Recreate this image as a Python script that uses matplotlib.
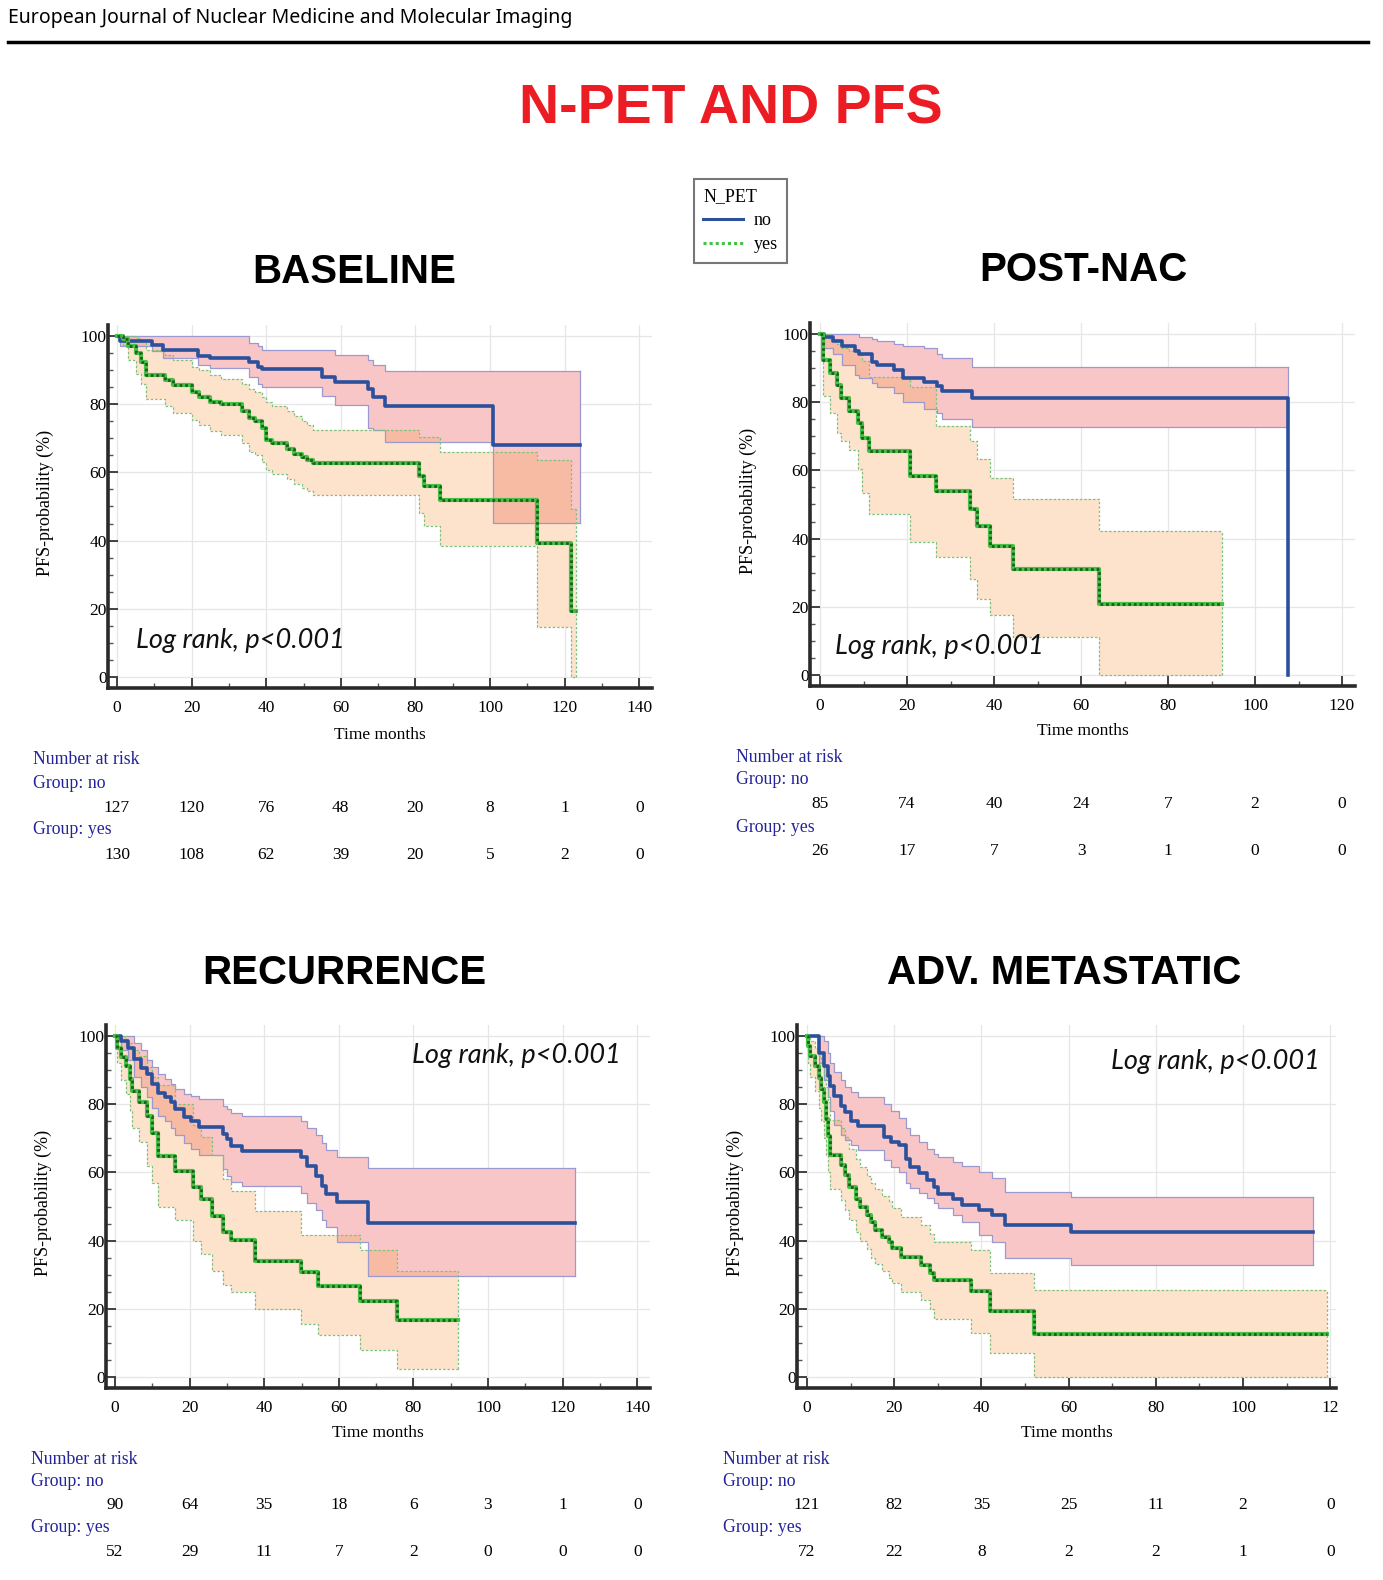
import matplotlib
matplotlib.use("Agg")
import matplotlib.pyplot as plt
import matplotlib.transforms as mtransforms
from matplotlib.lines import Line2D
from matplotlib.ticker import MultipleLocator
import numpy as np

# ---------------- data ----------------
# BASELINE
base_no_t = [0, 0.7, 9.5, 12.4, 21.6, 25, 35.4, 37.7, 39, 55, 58.4, 67.4, 68.7, 71.8, 100.7, 124]
base_no_s = [100, 98.5, 97.5, 95.8, 94.2, 93.5, 92.3, 91, 90.3, 88, 86.4, 84.5, 82, 79.4, 67.9, 67.9]
base_no_hi = [100, 100, 100, 100, 100, 100, 98, 97, 96, 96, 94.5, 93, 91.5, 89.6, 89.6, 89.6]
base_no_lo = [100, 97, 95.5, 93.5, 91.5, 90.5, 88, 86, 85, 82.5, 79.7, 73, 72.5, 68.8, 45.3, 45.3]
base_yes_t = [0, 1.5, 3, 5, 6.5, 7.8, 13, 15, 20, 22, 25, 28, 33.5, 35.5, 37, 39, 40, 41.5, 45.5,
              47.5, 49.5, 51, 52.5, 81, 82.3, 86.5, 112.5, 121.8, 123]
base_yes_s = [100, 99, 97, 95, 92.5, 88.5, 87, 85.5, 83.5, 82, 80.5, 80, 78, 76, 75, 73, 69.5, 68.5, 67,
              65.5, 64.5, 63.5, 62.9, 59, 56, 51.9, 39.3, 19.4, 19.4]
base_yes_hi = [100, 100, 100, 99.5, 98.5, 96, 94.5, 93, 91, 90, 88.5, 87.5, 86, 84.5, 83.5, 82, 80.5, 79.5, 78,
               76.5, 75, 74, 72.4, 70.5, 70.5, 65.9, 63.7, 49.2, 49.2]
base_yes_lo = [100, 97, 93, 89, 86, 81.5, 79.5, 77.5, 75.5, 74, 72, 71, 68.5, 66, 65, 63, 60.8, 59.5, 58,
               56.5, 55.5, 54.5, 53.5, 48, 44.3, 38.5, 14.8, 0, 0]

# POST-NAC
post_no_t = [0, 1, 3, 5, 8, 9, 12, 13, 17, 19, 24, 27, 28, 35, 107.7]
post_no_s = [100, 99, 98, 96.5, 95, 94.2, 91.9, 91, 89.3, 87, 86, 84.8, 83.2, 81.2, 0]
post_no_hi = [100, 100, 100, 100, 100, 99, 98.5, 98, 97, 96.5, 96, 94, 93, 90.3, 90.3]
post_no_lo = [100, 96, 94, 91, 88, 87, 85.5, 84.5, 82.7, 80, 78, 76.8, 75, 72.7, 72.7]
post_yes_t = [0, 0.8, 2.3, 3.8, 4.8, 6.7, 8.7, 9.7, 11.2, 20.6, 26.6, 34.5, 36, 39, 44.4, 64.2, 92.4]
post_yes_s = [100, 92.4, 88.5, 85.1, 81.2, 77.3, 73.9, 69.6, 65.7, 58.4, 54, 48.6, 43.8, 37.9, 31.1, 20.9, 20.9]
post_yes_hi = [100, 100, 98, 97, 96, 95, 94, 92, 87.5, 84.6, 73, 68.6, 63.2, 57.9, 51.6, 42.3, 42.3]
post_yes_lo = [100, 81.7, 76.8, 71, 68.5, 66, 60.3, 53.5, 47.2, 38.9, 34.5, 28.2, 22.4, 17.5, 11.2, 0, 0]

# RECURRENCE
rec_no_t = [0, 1.7, 3.5, 5.2, 6.9, 8.7, 9.8, 11.6, 13.3, 15, 16.2, 18.5, 20.3, 22.6, 28.9, 30, 31.2, 34,
            49.8, 51.5, 53.8, 55.6, 56.7, 59.6, 67.9, 123.3]
rec_no_s = [100, 98.5, 96.6, 93.2, 90.7, 88.8, 85.9, 83.4, 82, 80.5, 78.5, 76.1, 75.1, 73.2, 71.2, 69.8, 67.8,
            66.3, 64.4, 61.9, 59, 56.1, 53.7, 51.2, 45.2, 45.2]
rec_no_hi = [100, 100, 100, 98, 96, 93, 91, 89, 87.5, 86, 84.5, 83, 82.5, 81.5, 79.5, 78.5, 77.5, 76.5,
             75, 73, 71, 68.5, 66.5, 64.4, 61.3, 61.3]
rec_no_lo = [100, 96, 93, 88, 85, 82, 79, 76.5, 75, 73, 71, 68.5, 67, 65, 61, 59, 57.1, 56.1,
             54, 51, 49, 46, 44, 39.5, 29.5, 29.5]
rec_yes_t = [0, 0.5, 1.7, 2.9, 4, 4.6, 6.4, 8.7, 9.8, 11.6, 16.2, 20.8, 23.1, 26, 28.9, 31.2, 37.6, 49.8,
             54.4, 65.7, 75.5, 92]
rec_yes_s = [100, 96.6, 93.7, 91.2, 87.3, 83.9, 80.5, 76.6, 71.7, 64.9, 60.5, 55.6, 52.2, 47.3, 42.4, 40.3,
             34.1, 30.7, 26.8, 22.4, 16.6, 16.6]
rec_yes_hi = [100, 100, 100, 98, 98, 96, 94, 91, 88, 85.5, 80, 74, 70.5, 65, 58, 54.6, 48.8, 41.5,
              41.5, 37.1, 31.2, 31.2]
rec_yes_lo = [100, 92, 87, 83, 78, 73, 69, 62, 57, 50, 46, 40, 36, 31, 27, 25, 20, 15.6, 12.2, 7.8, 2.4, 2.4]

# ADV. METASTATIC
adv_no_t = [0, 2.8, 3.8, 4.8, 5.3, 6.3, 7.7, 8.7, 10.2, 11.7, 17.7, 19.2, 21.1, 22.6, 23.6, 25.6, 27.6,
            29.1, 30, 33.5, 35.5, 39.5, 42.5, 45.4, 60.6, 116]
adv_no_s = [100, 95.1, 91.2, 88.3, 85.4, 82.5, 79.6, 77.6, 75.2, 73.7, 70.3, 68.9, 67.9, 64, 61.6, 59.7,
            57.7, 55.7, 53.8, 52.3, 50.4, 48.9, 47.5, 44.6, 42.6, 42.6]
adv_no_hi = [100, 100, 98.5, 95, 92, 89.5, 87, 85, 83.5, 82, 80, 78, 76, 73, 71, 69, 67, 65.5, 64.5, 63,
             62, 60, 58.5, 54.3, 52.8, 52.8]
adv_no_lo = [100, 92, 87, 82, 78, 74, 71, 69.5, 68, 66.5, 63.5, 61.5, 60, 57, 55.5, 54, 52.5, 51, 49.5,
             47.5, 45.5, 41.6, 39.5, 34.8, 32.9, 32.9]
adv_yes_t = [0, 0.3, 0.8, 1.8, 2.8, 3.3, 3.8, 4.3, 4.8, 5.3, 7.7, 8.7, 9.7, 11.2, 12.2, 13.7, 14.7, 15.7,
             17.2, 18.7, 19.6, 21.6, 26.1, 28.1, 29.1, 37.5, 42, 52.1, 119.3]
adv_yes_s = [100, 97, 94.2, 91.2, 87.8, 84.4, 80.5, 75.7, 70.8, 65, 62.1, 59.1, 55.7, 52.3, 49.9, 47.5,
             45.5, 43.1, 41.2, 39.7, 37.7, 35.3, 32.9, 30.4, 28.5, 25.1, 19.3, 12.5, 12.5]
adv_yes_hi = [100, 100, 98.5, 96.5, 94, 92, 89, 85, 80.5, 75.5, 73, 70.5, 67, 64, 61.5, 59, 57, 55, 53,
              51.5, 49.5, 47, 44.5, 42, 39.7, 37.3, 30.4, 25.5, 25.5]
adv_yes_lo = [100, 92, 88, 84, 79, 75, 70, 65, 60, 55, 52, 49, 46, 42.5, 40, 37.5, 35, 33, 31, 29, 27.5,
              25, 22.5, 20, 17, 13, 7.1, 0, 0]

# numbers at risk
base_risk_no = [127, 120, 76, 48, 20, 8, 1, 0]
base_risk_yes = [130, 108, 62, 39, 20, 5, 2, 0]
post_risk_no = [85, 74, 40, 24, 7, 2, 0]
post_risk_yes = [26, 17, 7, 3, 1, 0, 0]
rec_risk_no = [90, 64, 35, 18, 6, 3, 1, 0]
rec_risk_yes = [52, 29, 11, 7, 2, 0, 0, 0]
adv_risk_no = [121, 82, 35, 25, 11, 2, 0]
adv_risk_yes = [72, 22, 8, 2, 2, 1, 0]

ticks_140 = [0, 20, 40, 60, 80, 100, 120, 140]
ticks_120 = [0, 20, 40, 60, 80, 100, 120]

# ---------------- style ----------------
W, H = 1383, 1580
BLUE = '#2b509c'
PINK = '#f9c6c8'
PEACH = '#fde3cc'
SALMON = '#f6bba2'
GREEN = '#46c046'
DKGREEN = '#1d5f1d'
NAVY = '#23239a'
SERIF = 'Liberation Serif'


def fx(px):
    return px / W


def fy(py):
    return 1 - py / H


def step_at(t, v, x):
    idx = np.searchsorted(t, x, side='right') - 1
    return np.asarray(v)[np.clip(idx, 0, len(v) - 1)]


fig = plt.figure(figsize=(W / 100, H / 100), dpi=100)

fig.text(fx(8), fy(18), 'European Journal of Nuclear Medicine and Molecular Imaging',
         family='Noto Sans', fontsize=14, va='center', ha='left')
fig.add_artist(Line2D([fx(8), fx(1368)], [fy(42), fy(42)], color='black', lw=2.5))
fig.text(fx(731), fy(124), 'N-PET AND PFS', family='Liberation Sans', weight='bold',
         fontsize=40, color='#ec1c24', ha='center', va='baseline')

YMIN, YMAX = -3.2, 103.2


def panel(title, tcx, tby, x0, ppu, xmin, xmax, y100, y0, ticks, tlabels,
          no, yes, risk_no, risk_yes, risk_x, risk_y, logpos, ylab_x, xlab_y):
    ppy = (y0 - y100) / 100.0
    left = x0 + xmin * ppu
    right = x0 + xmax * ppu
    top = y100 - (YMAX - 100) * ppy
    bottom = y0 - YMIN * ppy
    ax = fig.add_axes([fx(left), fy(bottom), (right - left) / W, (bottom - top) / H])
    ax.set_xlim(xmin, xmax)
    ax.set_ylim(YMIN, YMAX)

    fig.text(fx(tcx), fy(tby), title, family='Liberation Sans', weight='bold', fontsize=29,
             ha='center', va='baseline')

    # grid
    for g in ticks:
        ax.axvline(g, color='#e6e6e6', lw=0.9, zorder=0)
    for g in range(0, 101, 20):
        ax.axhline(g, color='#e6e6e6', lw=0.9, zorder=0)

    (nt, ns, nhi, nlo) = [np.asarray(a, float) for a in no]
    (yt, ys, yhi, ylo) = [np.asarray(a, float) for a in yes]

    ax.fill_between(nt, nlo, nhi, step='post', color=PINK, lw=0, zorder=1)
    ax.fill_between(yt, ylo, yhi, step='post', color=PEACH, lw=0, zorder=1.1)
    # overlap of both bands drawn darker
    end = min(nt[-1], yt[-1])
    xs = np.union1d(nt, yt)
    xs = xs[xs <= end]
    olo = np.maximum(step_at(nt, nlo, xs), step_at(yt, ylo, xs))
    ohi = np.minimum(step_at(nt, nhi, xs), step_at(yt, yhi, xs))
    ohi = np.where(ohi > olo, ohi, olo)
    ax.fill_between(xs, olo, ohi, step='post', color=SALMON, lw=0, zorder=1.2)

    # band edges
    for arr in (nhi, nlo):
        ax.step(nt, arr, where='post', color='#9a9ad0', lw=0.9, zorder=2)
    ax.plot([nt[-1], nt[-1]], [nlo[-1], nhi[-1]], color='#9a9ad0', lw=0.9, zorder=2)
    for arr in (yhi, ylo):
        ax.step(yt, arr, where='post', color='#7fc27f', lw=0.9, ls=(0, (2, 1.5)), zorder=2)
    ax.plot([yt[-1], yt[-1]], [ylo[-1], yhi[-1]], color='#7fc27f', lw=0.9, ls=(0, (2, 1.5)), zorder=2)

    # curves
    ax.step(nt, ns, where='post', color=BLUE, lw=2.6, zorder=4)
    ax.step(yt, ys, where='post', color=GREEN, lw=3.0, zorder=4)
    ax.step(yt, ys, where='post', color=DKGREEN, lw=2.0, ls=(0, (1, 1)), zorder=4.1)

    # axes look
    for side in ('top', 'right'):
        ax.spines[side].set_visible(False)
    for side in ('left', 'bottom'):
        ax.spines[side].set_linewidth(2.6)
        ax.spines[side].set_color('#2a2a2a')
    ax.set_xticks(ticks)
    ax.set_xticklabels(tlabels)
    ax.set_yticks(range(0, 101, 20))
    ax.xaxis.set_minor_locator(MultipleLocator(10))
    ax.yaxis.set_minor_locator(MultipleLocator(5))
    ax.tick_params(which='major', direction='in', length=7, width=1.3, color='#333333')
    ax.tick_params(which='minor', direction='in', length=3.5, width=1.0, color='#555555')
    ax.tick_params(axis='x', which='major', pad=9)
    ax.tick_params(axis='y', which='major', pad=1)
    for lab in ax.get_xticklabels() + ax.get_yticklabels():
        lab.set_family(SERIF)
        lab.set_fontsize(12.5)
    ax.set_facecolor('none')

    fig.text(fx(ylab_x), fy((top + bottom) / 2 - 4), 'PFS-probability (%)', family=SERIF, fontsize=13,
             rotation=90, ha='center', va='center')
    fig.text(fx((left + right) / 2), fy(xlab_y), 'Time months', family=SERIF, fontsize=12.5,
             ha='center', va='center')

    fig.text(fx(logpos[0]), fy(logpos[1]), 'Log rank, p<0.001', family='Lato', style='italic',
             fontsize=19.5, ha=logpos[2], va='center', color='#111111')

    # number at risk table
    tr = mtransforms.blended_transform_factory(ax.transData, fig.transFigure)
    ry = risk_y
    fig.text(fx(risk_x), fy(ry[0]), 'Number at risk', family=SERIF, fontsize=12.8, color=NAVY, va='center')
    fig.text(fx(risk_x), fy(ry[1]), 'Group: no', family=SERIF, fontsize=12.8, color=NAVY, va='center')
    fig.text(fx(risk_x), fy(ry[3]), 'Group: yes', family=SERIF, fontsize=12.8, color=NAVY, va='center')
    for tk, v in zip(ticks, risk_no):
        fig.text(tk, fy(ry[2]), str(v), transform=tr, family=SERIF, fontsize=12.5, ha='center', va='center')
    for tk, v in zip(ticks, risk_yes):
        fig.text(tk, fy(ry[4]), str(v), transform=tr, family=SERIF, fontsize=12.5, ha='center', va='center')
    return ax


lab140 = [str(v) for v in ticks_140]
lab120 = [str(v) for v in ticks_120]
lab120_cut = lab120[:-1] + ['12']

panel('BASELINE', 354, 283, 117, 3.73, -2.4, 143.5, 336, 677, ticks_140, lab140,
      (base_no_t, base_no_s, base_no_hi, base_no_lo), (base_yes_t, base_yes_s, base_yes_hi, base_yes_lo),
      base_risk_no, base_risk_yes, 33, [759, 783, 808, 830, 855], (136, 641, 'left'), 45, 735)
panel('POST-NAC', 1083, 281, 820, 4.35, -2.3, 123, 334, 675, ticks_120, lab120,
      (post_no_t, post_no_s, post_no_hi, post_no_lo), (post_yes_t, post_yes_s, post_yes_hi, post_yes_lo),
      post_risk_no, post_risk_yes, 736, [757, 780, 804, 827, 851], (835, 647, 'left'), 748, 731)
panel('RECURRENCE', 344, 984, 115, 3.73, -2.4, 143.5, 1036, 1377, ticks_140, lab140,
      (rec_no_t, rec_no_s, rec_no_hi, rec_no_lo), (rec_yes_t, rec_yes_s, rec_yes_hi, rec_yes_lo),
      rec_risk_no, rec_risk_yes, 31, [1459, 1482, 1505, 1528, 1552], (621, 1055, 'right'), 43, 1433)
panel('ADV. METASTATIC', 1064, 984, 807, 4.36, -2.3, 121.3, 1036, 1377, ticks_120, lab120_cut,
      (adv_no_t, adv_no_s, adv_no_hi, adv_no_lo), (adv_yes_t, adv_yes_s, adv_yes_hi, adv_yes_lo),
      adv_risk_no, adv_risk_yes, 723, [1459, 1482, 1505, 1528, 1552], (1320, 1061, 'right'), 735, 1433)

# legend
handles = [Line2D([], [], color=BLUE, lw=2.2),
           Line2D([], [], color=GREEN, lw=2.2, ls=(0, (1, 1)))]
leg = fig.legend(handles, ['no', 'yes'], title='N_PET', loc='upper left',
                 bbox_to_anchor=(fx(694), fy(179)), frameon=True, fancybox=False,
                 prop={'family': SERIF, 'size': 13}, title_fontproperties={'family': SERIF, 'size': 13},
                 handlelength=2.2, handletextpad=0.6, labelspacing=0.4, borderpad=0.5,
                 borderaxespad=0)
leg._legend_box.align = 'left'
leg.get_frame().set_edgecolor('#555555')
leg.get_frame().set_linewidth(1.5)

fig.savefig('out.png', dpi=100)
